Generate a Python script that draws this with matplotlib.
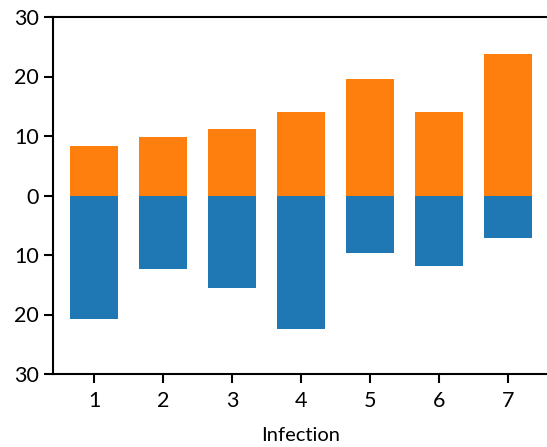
import matplotlib
matplotlib.use("Agg")

import matplotlib.pyplot as plt

infections = [1, 2, 3, 4, 5, 6, 7]
upper_values = [8.3, 9.8, 11.2, 14.0, 19.5, 14.0, 23.7]
lower_values = [20.7, 12.3, 15.6, 22.4, 9.6, 11.8, 7.2]
y_ticks = [-30, -20, -10, 0, 10, 20, 30]

plt.rcParams["font.family"] = ["Lato", "DejaVu Sans"]

figure = plt.figure(figsize=(5.47, 4.47), dpi=100)
axes = figure.add_axes([53 / 547, 73 / 447, 496 / 547, 357 / 447])

axes.bar(infections, upper_values, width=0.7, color="#ff7f0e")
axes.bar(infections, [-value for value in lower_values], width=0.7, color="#1f77b4")

axes.set_xlim(0.4, 7.6)
axes.set_ylim(-30, 30)
axes.set_xticks(infections)
axes.set_yticks(y_ticks)
axes.set_yticklabels([str(abs(tick)) for tick in y_ticks])
axes.tick_params(axis="both", labelsize=15.5, width=1.5, length=6.5)
axes.tick_params(axis="x", pad=6)
axes.set_xlabel("Infection", fontsize=14.5, labelpad=11)

axes.spines["right"].set_visible(False)
for spine_name in ["left", "top", "bottom"]:
    axes.spines[spine_name].set_linewidth(1.5)

figure.savefig("out.png", dpi=100)
